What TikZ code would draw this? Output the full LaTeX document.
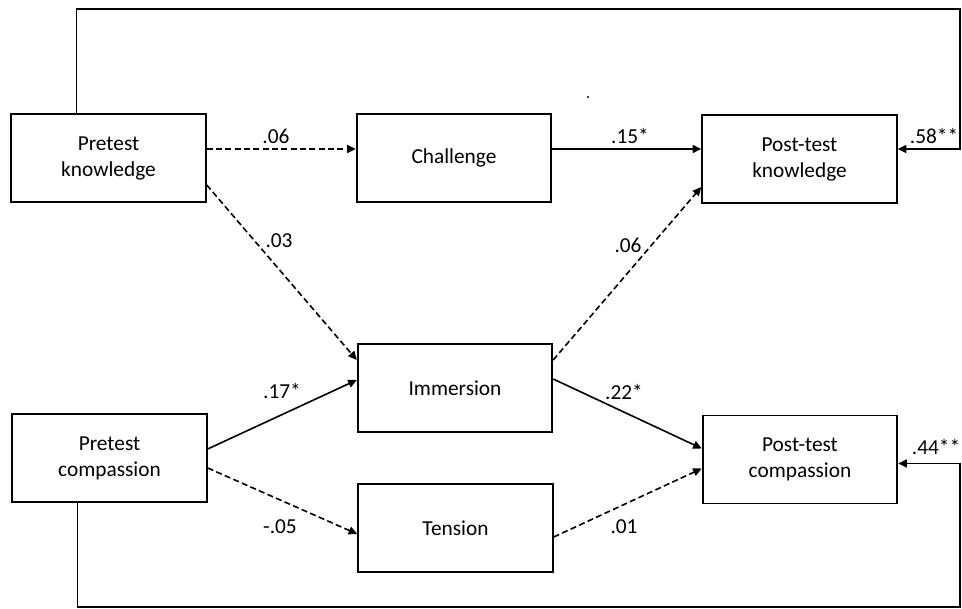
\documentclass[tikz,border=0pt]{standalone}
\usepackage{fontspec}
\setmainfont{Carlito}
\usetikzlibrary{calc,arrows.meta}

\begin{document}
\begin{tikzpicture}
	[x=0.75pt,y=-0.75pt,font=\fontsize{16}{19.5}\selectfont,
	 box/.style={rectangle, draw, line width=1.3pt, align=center, minimum width=146pt, minimum height=66pt, inner sep=0pt},
	 wt/.style={draw=none, fill=none, inner sep=0pt},
	 link/.style={line width=1.2pt, -{Triangle[length=6.5pt,width=6pt]}},
	 weak/.style={link, dash pattern=on 4.5pt off 2.5pt}]
	\useasboundingbox (0,0) rectangle (962,609);
	
	\node[box] (pk)  at (108.5,158) {Pretest\\knowledge};
	\node[box] (ch)  at (454,158)   {Challenge};
	\node[box] (ptk) at (799.5,159) {Post-test\\knowledge};
	\node[box] (im)  at (455,388)   {Immersion};
	\node[box] (pc)  at (109.5,458) {Pretest\\compassion};
	\node[box] (te)  at (455.5,528) {Tension};
	\node[box] (ptc) at (800,459.5) {Post-test\\compassion};
	\node[circle, fill, inner sep=0pt, minimum size=1.6pt] (speck) at (588,97) {};
	
	\coordinate (topr) at (960,9);
	\coordinate (botr) at (960,607);
	
	\node[wt] (pkch)    at (276,136) {.06};
	\node[wt] (chptk)   at (630,136) {.15*};
	\node[wt] (pkim)    at (279,241) {.03};
	\node[wt] (imptk)   at (628,245) {.06};
	\node[wt] (pcim)    at (282,391) {.17*};
	\node[wt] (pcte)    at (280,527) {-.05};
	\node[wt] (imptc)   at (624,392) {.22*};
	\node[wt] (teptc)   at (624,527) {.01};
	\node[wt] (ptkloop) at (934,136) {.58**};
	\node[wt] (ptcloop) at (936,447) {.44**};
	
	\draw[weak] ($(pk.east)+(0,-9)$) -- ($(ch.west)+(0,-9)$);
	\draw[link] ($(ch.east)+(0,-9)$) -- ($(ptk.west)+(0,-10)$);
	\draw[weak] ($(pk.east)+(0,27)$) -- ($(im.west)+(0,-28)$);
	\draw[weak] ($(im.east)+(0,-28)$) -- ($(ptk.west)+(0,28)$);
	\draw[link] ($(pc.east)+(0,-9)$) -- ($(im.west)+(0,-8)$);
	\draw[weak] ($(pc.east)+(0,10)$) -- ($(te.west)+(0,6)$);
	\draw[link] ($(im.east)+(0,-9)$) -- ($(ptc.west)+(0,-11)$);
	\draw[weak] ($(te.east)+(0,9)$) -- ($(ptc.west)+(0,9)$);
	\draw[link] ($(pk.north)+(-32,0)$) |- (topr) |- ($(ptk.east)+(0,-10)$);
	\draw[link] ($(pc.south)+(-32,0)$) |- (botr) |- ($(ptc.east)+(0,4)$);
\end{tikzpicture}
\end{document}
